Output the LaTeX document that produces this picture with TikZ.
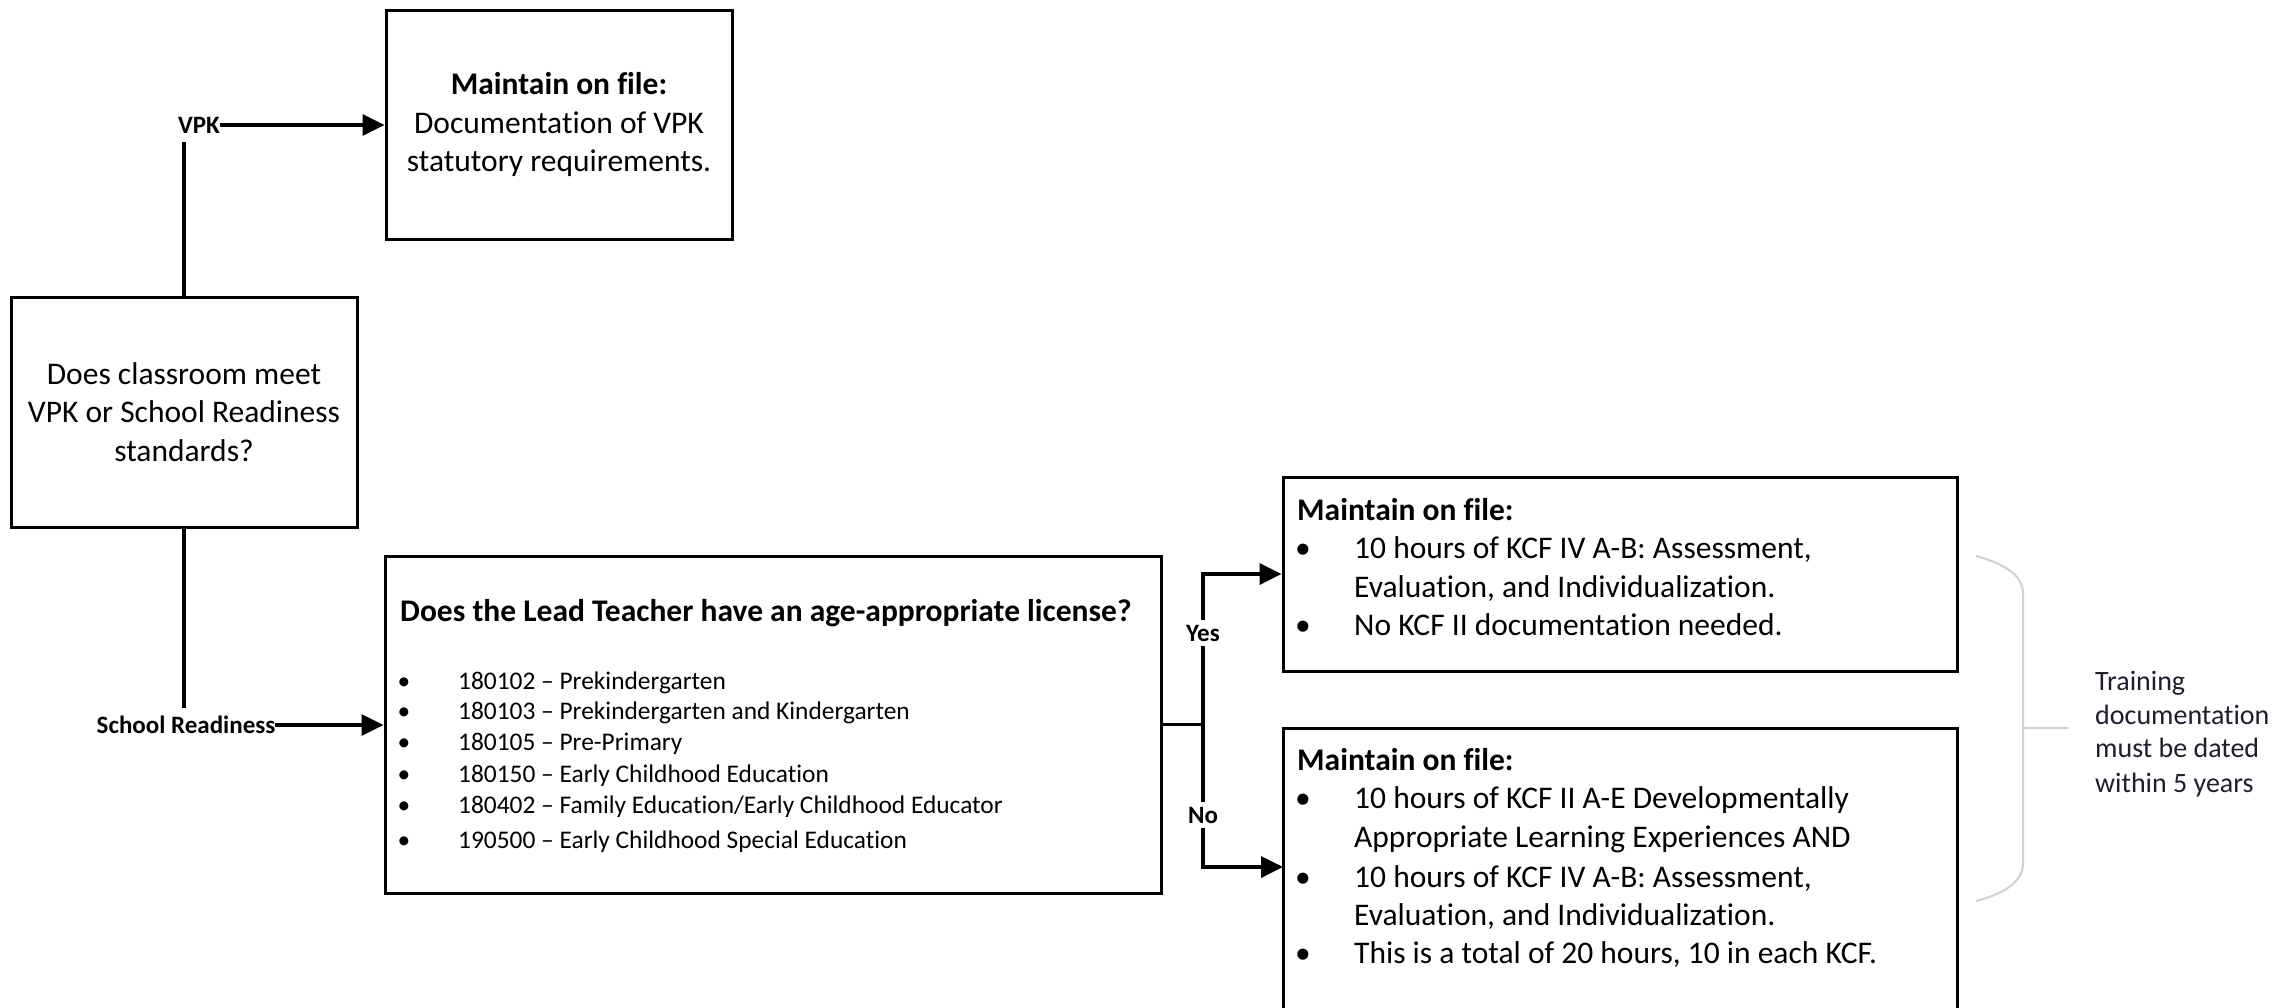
\documentclass[tikz,border=0pt]{standalone}
\usepackage{fontspec}
\setmainfont{Carlito}[Ligatures={TeX,NoCommon,NoContextual},RawFeature={-liga;-clig;-calt}]
\usetikzlibrary{arrows.meta}
\newcommand\fmain{\fontsize{31.5}{38.5}\selectfont}
\newcommand\flist{\fontsize{25.4}{31}\selectfont}
\newcommand\flbl{\fontsize{25}{30}\selectfont\bfseries}
\newcommand\fnote{\fontsize{28}{34}\selectfont}
\definecolor{notecol}{RGB}{30,30,45}
\definecolor{bracecol}{RGB}{208,208,208}
\begin{document}
\begin{tikzpicture}[x=1pt,y=-1pt,
 box/.style={draw, line width=3pt, inner sep=0pt, align=center, font=\fmain},
 conn/.style={line width=3.5pt},
 arr/.style={conn, -{Triangle[length=22pt,width=21pt]}},
 lbl/.style={font=\flbl, inner sep=0pt},
 yn/.style={font=\flbl, fill=white, inner xsep=2pt, inner ysep=5pt},
 tl/.style={anchor=base west, inner sep=0pt, font=\fmain},
 tb/.style={anchor=base west, inner sep=0pt, font=\fmain\bfseries},
 bul/.style={anchor=base, inner sep=0pt, font=\fmain},
 li/.style={anchor=base west, inner sep=0pt, font=\flist},
 lb/.style={anchor=base, inner sep=0pt, font=\flist},
 nt/.style={anchor=base west, inner sep=0pt, font=\fnote, text=notecol},
 bracepath/.style={draw=bracecol, line width=2pt}
]
\useasboundingbox (0,0) rectangle (2277,1007);
\clip (0,0) rectangle (2277,1007);
\fill[white] (0,0) rectangle (2277,1007);

% boxes
\node[box, minimum width=346pt, minimum height=230pt] (q) at (184,412)
  {Does classroom meet\\VPK or School Readiness\\standards?};
\node[box, minimum width=346pt, minimum height=229pt] (vpkbox) at (559,124.5)
  {\textbf{Maintain on file:}\\Documentation of VPK\\statutory requirements.};
\node[box, minimum width=776pt, minimum height=337pt] (lic) at (773,724.5) {};
\node[box, minimum width=674pt, minimum height=194pt] (yesbox) at (1620,574) {};
\node[box, minimum width=674pt, minimum height=312pt] (nobox) at (1620,884) {};

% license box text
\node[tb] (lict) at (400,621) {Does the Lead Teacher have an age-appropriate license?};
\node[lb] (lb1) at (404,689) {•}; \node[li] (li1) at (458,689) {180102 – Prekindergarten};
\node[lb] (lb2) at (404,719) {•}; \node[li] (li2) at (458,719) {180103 – Prekindergarten and Kindergarten};
\node[lb] (lb3) at (404,750) {•}; \node[li] (li3) at (458,750) {180105 – Pre-Primary};
\node[lb] (lb4) at (404,782) {•}; \node[li] (li4) at (458,782) {180150 – Early Childhood Education};
\node[lb] (lb5) at (404,813) {•}; \node[li] (li5) at (458,813) {180402 – Family Education/Early Childhood Educator};
\node[lb] (lb6) at (404,848) {•}; \node[li] (li6) at (458,848) {190500 – Early Childhood Special Education};

% yes box text
\node[tb] (ytitle) at (1297,520) {Maintain on file:};
\node[bul] (yb1) at (1303,558) {•}; \node[tl] (y1) at (1354,558) {10 hours of KCF IV A-B: Assessment,};
\node[tl] (y2) at (1354,597) {Evaluation, and Individualization.};
\node[bul] (yb3) at (1303,635) {•}; \node[tl] (y3) at (1354,635) {No KCF II documentation needed.};

% no box text
\node[tb] (ntitle) at (1297,770) {Maintain on file:};
\node[bul] (nb1) at (1303,808) {•}; \node[tl] (n1) at (1354,808) {10 hours of KCF II A-E Developmentally};
\node[tl] (n2) at (1354,847) {Appropriate Learning Experiences AND};
\node[bul] (nb3) at (1303,887) {•}; \node[tl] (n3) at (1354,887) {10 hours of KCF IV A-B: Assessment,};
\node[tl] (n4) at (1354,925) {Evaluation, and Individualization.};
\node[bul] (nb5) at (1303,963) {•}; \node[tl] (n5) at (1354,963) {This is a total of 20 hours, 10 in each KCF.};

% connectors
\coordinate (vpkgap) at (184,142);
\draw[conn] (q.north) -- (vpkgap);
\node[lbl] (vpk) at (199,125) {VPK};
\draw[arr] (vpk.east) -- (vpk.east -| vpkbox.west);

\coordinate (srgap) at (184,708);
\draw[conn] (q.south) -- (srgap);
\node[lbl] (sr) at (186,725) {School Readiness};
\draw[arr] (sr.east) -- (sr.east -| lic.west);

\coordinate (br) at (1203,724.5);
\coordinate (noin) at (1283,867);
\draw[conn] (lic.east) -- (br);
\draw[arr] (br) |- (yesbox.west);
\draw[arr] (br) |- (noin);
\node[yn] (yes) at (1203,633) {Yes};
\node[yn] (no) at (1203,815) {No};

% brace and note
\draw[bracepath] (1976,556) .. controls (2006,564) and (2023,576) .. (2023,594)
  -- (2023,863) .. controls (2023,881) and (2006,893) .. (1976,901);
\draw[bracepath] (2023,728) -- (2068,728);
\node[nt] (note1) at (2095,690) {Training};
\node[nt] (note2) at (2095,724) {documentation};
\node[nt] (note3) at (2095,757) {must be dated};
\node[nt] (note4) at (2095,792) {within 5 years};
\end{tikzpicture}
\end{document}
